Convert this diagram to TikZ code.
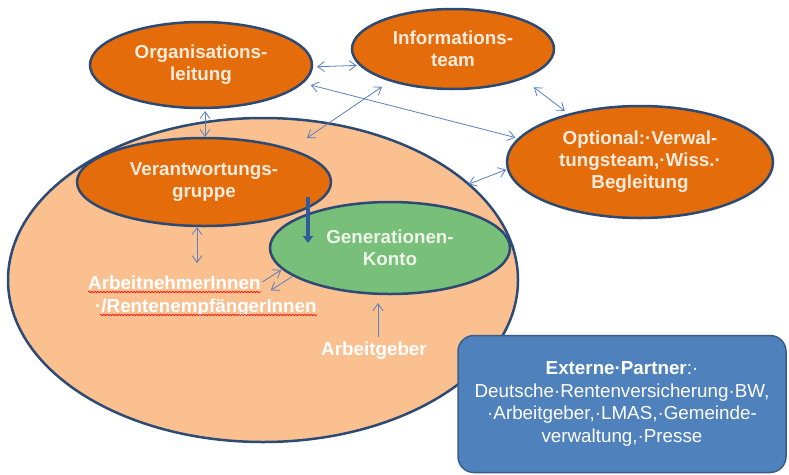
\documentclass[tikz,border=0pt]{standalone}
\usepackage{fontspec}
\setmainfont{Liberation Sans}
\usetikzlibrary{shapes.geometric,arrows.meta,calc,decorations.pathmorphing}
\definecolor{darkorange}{HTML}{E46C0A}
\definecolor{lightorange}{HTML}{FAC090}
\definecolor{edgeblue}{HTML}{2C4A74}
\definecolor{greenfill}{HTML}{78BF79}
\definecolor{boxblue}{HTML}{4F81BD}
\definecolor{boxedge}{HTML}{385D8A}
\definecolor{connblue}{HTML}{5A80C0}
\definecolor{thickblue}{HTML}{2E5B9A}
\definecolor{cream}{HTML}{FDEBDC}
\definecolor{paletext}{HTML}{EEF5EA}
\begin{document}
\begin{tikzpicture}[x=1pt,y=-1pt,
  bigfont/.style={font=\fontsize{18.8}{22}\selectfont\bfseries},
  bubble/.style={ellipse,draw=edgeblue,line width=2.5pt,fill=darkorange,inner sep=0pt,outer sep=0pt,text=cream,bigfont,align=center},
  lbl/.style={inner sep=1pt,text=white,bigfont},
  conn/.style={draw=connblue,line width=0.8pt,{Straight Barb[length=7pt,width=10pt]}-{Straight Barb[length=7pt,width=10pt]}},
  connone/.style={draw=connblue,line width=0.8pt,-{Straight Barb[length=7pt,width=10pt]}},
  thickarr/.style={draw=thickblue,line width=3.5pt,-{Triangle[length=7pt,width=10pt]}},
  spell/.style={draw=red,line width=0.6pt,decorate,decoration={snake,amplitude=0.8pt,segment length=3pt}}]
\useasboundingbox (0,0) rectangle (789,474);
\fill[white] (0,0) rectangle (789,474);

% big organisation ellipse
\node[ellipse,draw=edgeblue,line width=2.5pt,fill=lightorange,inner sep=0pt,outer sep=0pt,minimum width=510pt,minimum height=324pt] (big) at (263,280) {};

\node[bubble,minimum width=254pt,minimum height=88pt] (vg) at (204,182) {Verantwortungs-\\gruppe};
\node[bubble,fill=greenfill,text=paletext,minimum width=240pt,minimum height=92pt] (gk) at (390,248) {Generationen-\\Konto};

\node[bubble,minimum width=222pt,minimum height=86pt] (ol) at (201,65) {Organisations-\\leitung};
\node[bubble,minimum width=202pt,minimum height=80pt] (it) at (453,49) {Informations-\\team};
\node[bubble,minimum width=266pt,minimum height=112pt] (opt) at (640,162) {Optional:·Verwal-\\tungsteam,·Wiss.·\\Begleitung};

\node[draw=boxedge,line width=1.5pt,fill=boxblue,rounded corners=16pt,minimum width=328pt,minimum height=137pt,text=white,align=center,font=\fontsize{18.8}{22.7}\selectfont] (ext) at (622,404) {\textbf{Externe·Partner}:·\\Deutsche·Rentenversicherung·BW,\\·Arbeitgeber,·LMAS,·Gemeinde-\\verwaltung,·Presse};

% labels inside the big ellipse
\node[lbl,anchor=base west] (an) at (87,289) {ArbeitnehmerInnen};
\node[lbl,anchor=base west] (re) at (94,312) {·/RentenempfängerInnen};
\node[lbl,anchor=base] (ag) at (374,355) {Arbeitgeber};

\draw[spell] ($(an.base west)+(1,3)$) -- ($(an.base east)+(-1,3)$);
\draw[spell] ($(re.base west)+(6,3)$) -- ($(re.base east)+(-1,3)$);

% connectors
\coordinate (bigin) at ($(big.center)+(44,-142)$);
\draw[conn,shorten <=5pt,shorten >=4pt] (ol.-1) -- (it.190.6);
\draw[conn,shorten <=15pt,shorten >=6pt] (it.-23) -- (opt.146);
\draw[conn,shorten <=9pt,shorten >=4pt] (ol.-10.6) -- (opt.169.2);
\draw[conn,shorten >=11pt] (bigin) -- (it.207.6);
\draw[conn,shorten <=3pt,shorten >=1pt] ([xshift=4pt]ol.south) -- ([xshift=1pt]vg.north);
\draw[conn,shorten >=2pt] (big.25.3) -- (opt.183.4);
\draw[conn,shorten <=1pt,shorten >=11pt] ([xshift=-7pt]vg.south) -- ([xshift=-7pt]vg.south |- an.north);
\draw[thickarr] ($(vg.center)+(104,15)$) -- ($(gk.center)+(-82,-5)$);
\draw[connone,shorten <=1pt,shorten >=2pt] (an.east) -- (gk.191.5);
\draw[connone,shorten <=2pt] (gk.196.6) -- ($(an.east)+(9,8)$);
\draw[connone,shorten >=9pt] ([xshift=4pt,yshift=3pt]ag.north) -- ([xshift=4pt]ag.north |- gk.south);
\end{tikzpicture}
\end{document}
